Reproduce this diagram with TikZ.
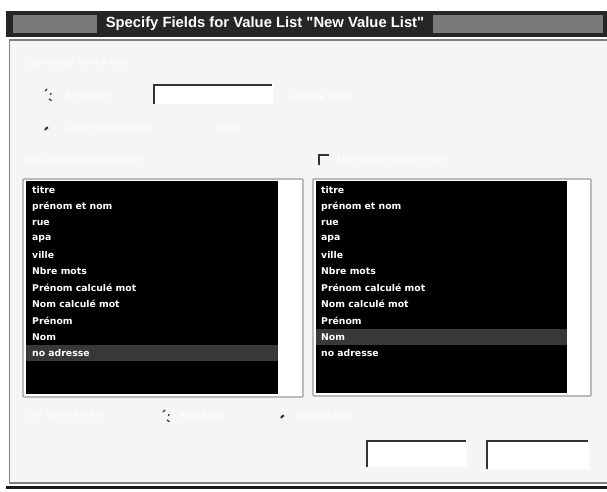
\documentclass[tikz,border=0pt]{standalone}
\usepackage{fontspec}
\setmainfont{DejaVu Sans}
\newfontfamily\titlefont{Liberation Sans}
\begin{document}
\begin{tikzpicture}[x=1pt,y=-1pt,
  faint/.style={text=white, font=\fontsize{9}{10}\selectfont, anchor=west, inner sep=0pt},
  item/.style={text=white, font=\bfseries\fontsize{9.3}{10}\selectfont, anchor=west, inner sep=0pt},
  listframe/.style={draw=black!40, line width=1.2pt, fill=white},
  listbody/.style={fill=black},
  hilite/.style={fill=black!78},
  btnedge/.style={draw=black!80, line width=1.6pt},
  radio/.style={draw=black!80, line width=1.3pt}]
\useasboundingbox (0,0) rectangle (607,491);
\fill[white] (0,0) rectangle (607,491);
% title bar
\fill[black!85] (6,11) rectangle (607,37);
\fill[black!52] (13,15) rectangle (97,33);
\fill[black!52] (433,15) rectangle (603,33);
\node[text=white, font=\titlefont\bfseries\fontsize{14.8}{17}\selectfont, inner sep=0pt] (title) at (265,24) {Specify Fields for Value List "New Value List"};
% body
\draw[black!50, line width=1.6pt, fill=black!4] (9.5,40) rectangle (608,483);
\fill[black!90] (6,486) rectangle (607,489);
% top section
\node[faint] (usefield) at (25,62) {Use values from a field};
\draw[radio] (45,91) arc (200:250:3.5);
\draw[radio] (51,93) arc (0:30:3.5);
\draw[radio] (49,99) arc (280:330:3.5);
\node[faint] (allvals) at (66,95) {All values};
\fill[white] (153,84) rectangle (273,104);
\draw[btnedge, line width=1.4pt] (154,104) -- (154,85) -- (272,85);
\node[faint] (specify) at (172,96) {Specify field...};
\node[faint] (fichier) at (285,96) {"adresse fiche"};
\draw[radio, line width=2pt] (45,130) arc (200:260:4);
\node[faint] (related) at (66,128) {Only related values};
\node[faint] (using) at (215,129) {using};
\node[faint] (first) at (25,160) {Use values from first field};
\draw[btnedge, line width=1.2pt] (319,165) -- (319,155) -- (329,155);
\node[faint] (second) at (336,160) {Also display values from};
% left list
\draw[listframe, rounded corners=1pt] (23,179) rectangle (303,397);
\fill[listbody] (26,181) rectangle (278,394);
\fill[hilite] (26,345) rectangle (278,361);
% right list
\draw[listframe, rounded corners=1pt] (313,179) rectangle (591,396);
\fill[listbody] (316,181) rectangle (567,393);
\fill[hilite] (316,329) rectangle (567,345);
\foreach \t [count=\i from 0] in {titre,prénom et nom,rue,apa,ville,Nbre mots,Prénom calculé mot,Nom calculé mot,Prénom,Nom,no adresse}{
  \node[item] (l\i) at (32,190+16.3*\i) {\t};
  \node[item] (r\i) at (321,190+16.3*\i) {\t};
}
% bottom
\node[faint] (sortby) at (25,415) {Sort value list by:};
\draw[radio] (163,412) arc (200:250:3.5);
\draw[radio] (169,414) arc (0:30:3.5);
\draw[radio] (167,420) arc (280:330:3.5);
\node[faint] (ffield) at (180,416) {First field};
\draw[radio, line width=2pt] (281,418) arc (200:260:4);
\node[faint] (sfield) at (297,416) {Second field};
% buttons
\fill[white] (366,440) rectangle (467,467);
\draw[btnedge] (367,467) -- (367,441) -- (466,441);
\node[text=white, font=\fontsize{9}{10}\selectfont, inner sep=0pt] (cancel) at (417,455) {Cancel};
\fill[white] (486,440) rectangle (589,469);
\draw[btnedge] (487,469) -- (487,441) -- (588,441);
\node[text=white, font=\fontsize{9}{10}\selectfont, inner sep=0pt] (ok) at (537,456) {OK};
\end{tikzpicture}
\end{document}
